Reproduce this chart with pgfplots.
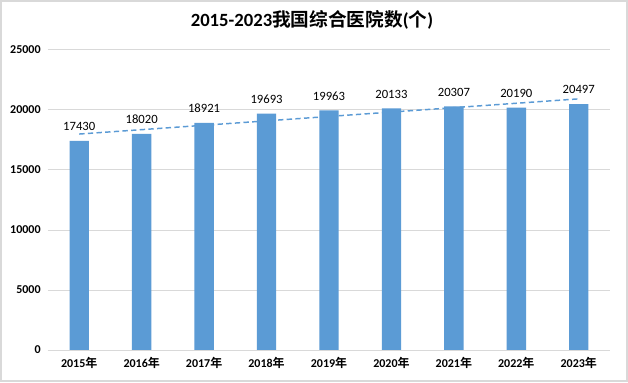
\documentclass[border=0pt]{standalone}
\usepackage{pgfplots}
\pgfplotsset{compat=1.18}
\usepackage{fontspec}
\setmainfont{Carlito}
\newfontfamily\cjk{Noto Sans CJK SC}[BoldFont={Noto Sans CJK SC Bold}]
\definecolor{barblue}{HTML}{5B9BD5}
\definecolor{gridgray}{HTML}{D9D9D9}
\begin{document}
\begin{tikzpicture}[x=0.75pt,y=0.75pt]
\useasboundingbox (0,0) rectangle (628,382);
\draw[gridgray, fill=white, line width=1.2pt] (0.8,0.8) rectangle (627.2,381.2);
\node[font=\fontsize{14}{16}\selectfont\bfseries] at (312,362) {2015-2023{\cjk 我国综合医院数}({\cjk 个})};
\begin{axis}[
  at={(36pt,24pt)}, anchor=south west,
  scale only axis,
  width=421.5pt, height=225pt,
  ymin=0, ymax=25000, ytick={0,5000,...,25000},
  xmin=-0.5, xmax=8.5,
  xtick={0,...,8},
  xticklabels={2015{\cjk 年},2016{\cjk 年},2017{\cjk 年},2018{\cjk 年},2019{\cjk 年},2020{\cjk 年},2021{\cjk 年},2022{\cjk 年},2023{\cjk 年}},
  axis line style={draw=none},
  ymajorgrids, grid style={gridgray, line width=0.75pt},
  major tick length=0pt,
  tick label style={font=\fontsize{9}{11}\selectfont\bfseries, text=black},
  yticklabel style={/pgf/number format/fixed, /pgf/number format/1000 sep={}, xshift=-2pt},
  xticklabel style={yshift=-2pt},
  /pgf/number format/assume math mode=true,
  scaled y ticks=false,
  clip=false,
]
\addplot[ybar, bar width=0.31, fill=barblue, draw=none,
  nodes near coords, nodes near coords style={font=\fontsize{9.5}{11}\selectfont, text=black, /pgf/number format/fixed, /pgf/number format/1000 sep={}, /pgf/number format/assume math mode=true, yshift=4pt}]
coordinates {(0,17430) (1,18020) (2,18921) (3,19693) (4,19963) (5,20133) (6,20307) (7,20190) (8,20497)};
\addplot[barblue, line width=1.1pt, dash pattern=on 4pt off 2.5pt, forget plot] coordinates {(0,17996) (8,20928)};
\draw[gridgray, line width=0.75pt] (axis cs:-0.5,0) -- (axis cs:8.5,0);
\end{axis}
\end{tikzpicture}
\end{document}
